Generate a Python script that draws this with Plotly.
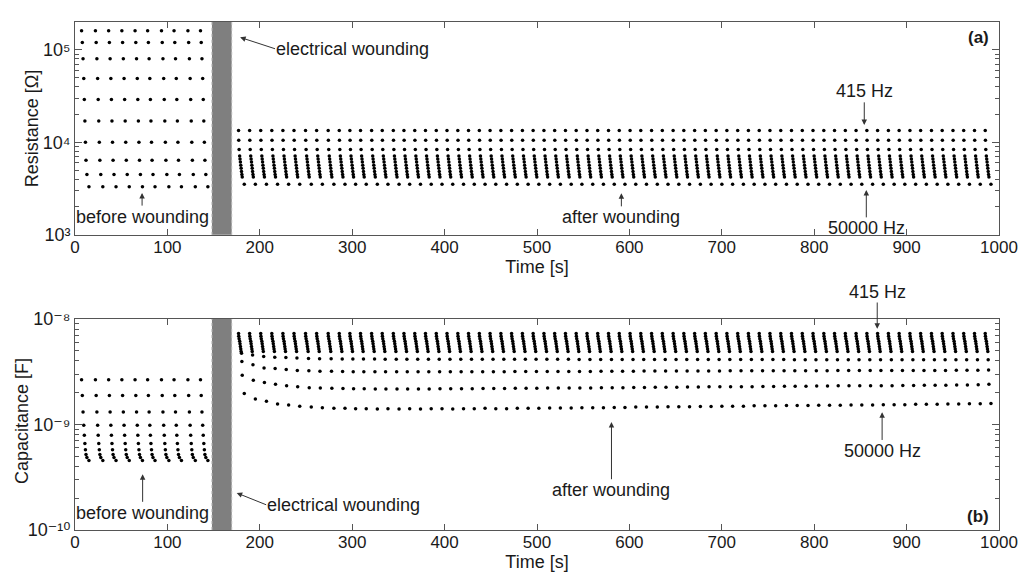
import plotly.graph_objects as go

# ---------------- data ----------------
# sweep start times [s]
before_times = [7.1, 22.1, 36.4, 50.7, 65.0, 78.6, 93.6, 107.2, 122.2, 135.8]
after_times = [177.0, 189.0, 201.0, 213.0, 225.0, 237.0, 249.5, 261.5, 274.0, 286.0,
               297.5, 309.0, 321.0, 332.5, 344.5, 356.0, 367.7, 379.3, 391.0, 402.6,
               414.3, 425.9, 437.6, 449.2, 460.9, 472.5, 484.2, 495.8, 507.5, 519.1,
               530.8, 542.4, 554.1, 565.7, 577.4, 589.0, 600.7, 612.3, 624.0, 635.6,
               647.3, 658.9, 670.6, 682.2, 693.9, 705.5, 717.2, 728.8, 740.5, 752.1,
               763.8, 775.4, 787.1, 798.7, 810.4, 822.0, 833.7, 845.3, 857.0, 868.6,
               880.3, 891.9, 903.6, 915.2, 926.9, 938.5, 950.2, 961.8, 973.5, 985.1]

# time of each frequency point within one sweep (415 Hz ... 50000 Hz) [s]
before_offsets = [0.0, 0.8, 1.6, 2.4, 3.0, 3.6, 4.2, 4.8, 5.8, 8.0]
after_offsets = [0.0, 0.2, 0.6, 1.2, 1.6, 2.0, 2.4, 2.8, 3.2, 3.6, 4.0, 6.2]

# resistance [Ohm] per frequency
R_before = [1.6e5, 1.2e5, 8.0e4, 4.9e4, 2.9e4, 1.7e4, 1.0e4, 6.4e3, 4.5e3, 3.3e3]
R_after = [13400, 10500, 8380, 7130, 6600, 6110, 5660, 5240, 4850, 4500, 4210, 3520]

# capacitance [F] per frequency
C_before = [2.65e-9, 1.88e-9, 1.31e-9, 9.8e-10, 7.9e-10, 6.6e-10, 5.75e-10, 5.2e-10, 4.85e-10, 4.55e-10]
C_after_low = [7.25e-9, 6.86e-9, 6.48e-9, 6.13e-9, 5.80e-9, 5.48e-9, 5.18e-9, 4.90e-9]
# the four highest frequencies after wounding, per sweep (x 1e-9 F)
C_after_f9 = [4.72, 4.56, 4.40, 4.33, 4.30, 4.25, 4.22, 4.20, 4.18, 4.17,
              4.16, 4.16, 4.16, 4.15, 4.15, 4.15, 4.15, 4.15, 4.15, 4.15,
              4.15, 4.15, 4.14, 4.14, 4.14, 4.14, 4.14, 4.14, 4.14, 4.14,
              4.14, 4.13, 4.13, 4.13, 4.13, 4.13, 4.13, 4.13, 4.13, 4.13,
              4.13, 4.12, 4.12, 4.12, 4.12, 4.12, 4.12, 4.12, 4.12, 4.12,
              4.12, 4.11, 4.11, 4.11, 4.11, 4.11, 4.11, 4.11, 4.11, 4.11,
              4.11, 4.10, 4.10, 4.10, 4.10, 4.10, 4.10, 4.10, 4.10, 4.10]
C_after_f10 = [3.95, 3.68, 3.42, 3.38, 3.31, 3.24, 3.22, 3.19, 3.19, 3.17,
               3.16, 3.16, 3.15, 3.15, 3.15, 3.15, 3.15, 3.15, 3.15, 3.15,
               3.15, 3.16, 3.16, 3.16, 3.16, 3.17, 3.17, 3.17, 3.17, 3.18,
               3.18, 3.18, 3.18, 3.19, 3.19, 3.19, 3.19, 3.20, 3.20, 3.20,
               3.20, 3.21, 3.21, 3.21, 3.21, 3.22, 3.22, 3.22, 3.22, 3.22,
               3.23, 3.23, 3.23, 3.23, 3.23, 3.24, 3.24, 3.24, 3.24, 3.24,
               3.24, 3.25, 3.25, 3.25, 3.25, 3.25, 3.26, 3.26, 3.27, 3.28]
C_after_f11 = [2.93, 2.62, 2.49, 2.40, 2.32, 2.27, 2.23, 2.22, 2.20, 2.19,
               2.18, 2.18, 2.17, 2.17, 2.17, 2.17, 2.17, 2.17, 2.18, 2.18,
               2.18, 2.18, 2.19, 2.19, 2.19, 2.20, 2.20, 2.20, 2.21, 2.21,
               2.21, 2.22, 2.22, 2.23, 2.23, 2.23, 2.24, 2.24, 2.25, 2.25,
               2.25, 2.26, 2.26, 2.27, 2.27, 2.28, 2.28, 2.28, 2.29, 2.29,
               2.30, 2.30, 2.30, 2.31, 2.31, 2.32, 2.32, 2.32, 2.33, 2.33,
               2.33, 2.34, 2.34, 2.35, 2.35, 2.35, 2.36, 2.37, 2.38, 2.40]
C_after_f12 = [1.96, 1.74, 1.66, 1.56, 1.53, 1.49, 1.46, 1.44, 1.42, 1.42,
               1.41, 1.41, 1.40, 1.41, 1.40, 1.41, 1.40, 1.41, 1.41, 1.40,
               1.41, 1.41, 1.42, 1.41, 1.41, 1.42, 1.42, 1.42, 1.43, 1.43,
               1.43, 1.44, 1.44, 1.44, 1.45, 1.45, 1.46, 1.46, 1.46, 1.47,
               1.47, 1.47, 1.48, 1.48, 1.49, 1.49, 1.49, 1.50, 1.50, 1.50,
               1.51, 1.51, 1.51, 1.52, 1.52, 1.52, 1.53, 1.53, 1.53, 1.54,
               1.54, 1.54, 1.55, 1.55, 1.55, 1.56, 1.56, 1.57, 1.57, 1.58]

wound_start, wound_end = 148.2, 169.6

# tick labels
R_ticks = [1e3, 1e4, 1e5]
R_ticktext = ["10³", "10⁴", "10⁵"]
C_ticks = [1e-10, 1e-9, 1e-8]
C_ticktext = ["10⁻¹⁰", "10⁻⁹", "10⁻⁸"]

# ---------------- build point lists ----------------
def sweep_points(times, offsets, rows):
    xs, ys = [], []
    for k, off in enumerate(offsets):
        row = rows[k]
        for j, t in enumerate(times):
            xs.append(t + off)
            ys.append(row[j] if isinstance(row, list) else row)
    return xs, ys

xRb, yRb = sweep_points(before_times, before_offsets, R_before)
xRa, yRa = sweep_points(after_times, after_offsets, R_after)
xCb, yCb = sweep_points(before_times, before_offsets, C_before)
C_after_rows = list(C_after_low) + [[v * 1e-9 for v in C_after_f9],
                                    [v * 1e-9 for v in C_after_f10],
                                    [v * 1e-9 for v in C_after_f11],
                                    [v * 1e-9 for v in C_after_f12]]
xCa, yCa = sweep_points(after_times, after_offsets, C_after_rows)

FONT = "Liberation Sans, Arial, DejaVu Sans, sans-serif"
TXT = "#1a1a1a"
AX = "#555555"
mk = dict(color="black", size=3.5)

fig = go.Figure()
fig.add_trace(go.Scatter(x=xRb + xRa, y=yRb + yRa, mode="markers", marker=mk,
                         xaxis="x", yaxis="y", showlegend=False, hoverinfo="skip"))
fig.add_trace(go.Scatter(x=xCb + xCa, y=yCb + yCa, mode="markers", marker=mk,
                         xaxis="x2", yaxis="y2", showlegend=False, hoverinfo="skip"))

xt = list(range(0, 1001, 100))
xcommon = dict(range=[0, 1000], tickvals=xt, ticktext=[str(v) for v in xt],
               ticks="inside", ticklen=6, tickcolor=AX, showline=True, linecolor=AX,
               linewidth=1, mirror="ticks", showgrid=False, zeroline=False,
               ticklabelstandoff=-3,
               tickfont=dict(family=FONT, size=17, color=TXT),
               title=dict(text="Time [s]", standoff=0, font=dict(family=FONT, size=18, color=TXT)))
ycommon = dict(type="log", ticks="inside", ticklen=7, tickcolor=AX, showline=True,
               linecolor=AX, linewidth=1, mirror="ticks", showgrid=False, zeroline=False,
               tickfont=dict(family=FONT, size=18, color=TXT),
               minor=dict(ticks="inside", ticklen=4, tickcolor=AX, dtick="D1", showgrid=False))

fig.update_layout(
    width=1030, height=577,
    margin=dict(l=75, r=22, t=14, b=45),
    paper_bgcolor="white", plot_bgcolor="white",
    xaxis=dict(domain=[0, 1], anchor="y", **xcommon),
    yaxis=dict(domain=[0.581, 1], anchor="x", range=[3, 5.3],
               tickvals=R_ticks, ticktext=R_ticktext, **ycommon),
    xaxis2=dict(domain=[0, 1], anchor="y2", **xcommon),
    yaxis2=dict(domain=[0, 0.4156], anchor="x2", range=[-10, -8],
                tickvals=C_ticks, ticktext=C_ticktext, **ycommon),
)

shapes = []
for xr, yr in (("x", "y domain"), ("x2", "y2 domain")):
    shapes.append(dict(type="rect", xref=xr, yref=yr, x0=wound_start, x1=wound_end, y0=0, y1=1,
                       fillcolor="#7f7f7f", line=dict(width=0), layer="below"))
    for xe in (wound_start, wound_end):
        shapes.append(dict(type="line", xref=xr, yref=yr, x0=xe, x1=xe, y0=0, y1=1,
                           line=dict(color="#b8b8b8", width=1, dash="dot"), layer="below"))
fig.update_layout(shapes=shapes)

ann = []
def label(s, head, tail, xr, yr, xanchor, yanchor, size=18):
    ann.append(dict(x=head[0], y=head[1], ax=tail[0], ay=tail[1], xref=xr, yref=yr,
                    axref=xr, ayref=yr, text=s, showarrow=True, arrowhead=2,
                    arrowsize=1.1, arrowwidth=1, arrowcolor="#333333",
                    xanchor=xanchor, yanchor=yanchor, borderpad=0,
                    font=dict(family=FONT, size=size, color=TXT)))

def text(x, y, s, xr, yr, size=17, bold=True):
    ann.append(dict(x=x, y=y, xref=xr, yref=yr, text=("<b>%s</b>" % s) if bold else s,
                    showarrow=False, xanchor="center", yanchor="middle",
                    font=dict(family=FONT, size=size, color=TXT)))

# top panel (y in log10 units)
label("electrical wounding", (178.7, 5.134), (216.5, 5.011), "x", "y", "left", "middle")
label("before wounding", (72.6, 3.453), (72.6, 3.316), "x", "y", "center", "top")
label("after wounding", (591.3, 3.449), (591.3, 3.308), "x", "y", "center", "top")
label("415 Hz", (854.2, 4.186), (854.2, 4.432), "x", "y", "center", "bottom")
label("50000 Hz", (856.4, 3.484), (856.4, 3.189), "x", "y", "center", "top")
text(977.5, 5.137, "(a)", "x", "y")

# bottom panel
label("415 Hz", (868.2, -8.093), (868.2, -7.845), "x2", "y2", "center", "bottom")
label("50000 Hz", (873.5, -8.884), (873.5, -9.147), "x2", "y2", "center", "top")
label("after wounding", (580.6, -8.977), (580.6, -9.519), "x2", "y2", "center", "top")
label("before wounding", (73.2, -9.473), (73.2, -9.733), "x2", "y2", "center", "top")
label("electrical wounding", (175, -9.649), (206.9, -9.761), "x2", "y2", "left", "middle")
text(977.5, -9.873, "(b)", "x2", "y2")

# y-axis titles
for tx, ty, s in ((-0.0461, 0.7915, "Resistance [Ω]"), (-0.0571, 0.2149, "Capacitance [F]")):
    ann.append(dict(x=tx, y=ty, xref="paper", yref="paper", text=s, textangle=-90,
                    showarrow=False, xanchor="center", yanchor="middle",
                    font=dict(family=FONT, size=18, color=TXT)))

fig.update_layout(annotations=ann)
fig.write_html("out.html")
